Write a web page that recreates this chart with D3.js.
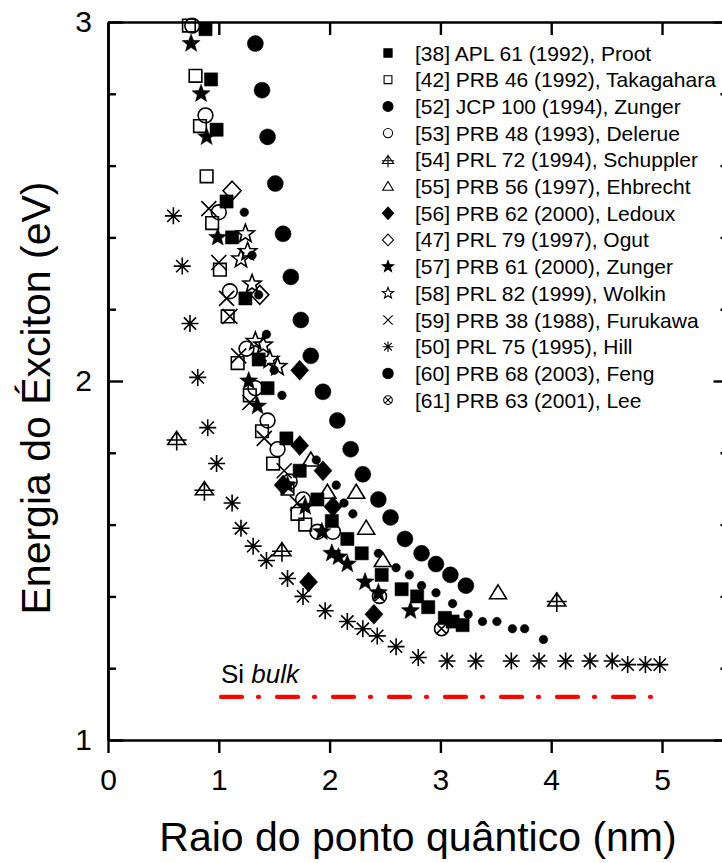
<!DOCTYPE html>
<html>
<head>
<meta charset="utf-8">
<script src="https://cdn.jsdelivr.net/npm/d3@7"></script>
<style>
  body { margin: 0; background: #fff; }
  svg { font-family: "Liberation Sans", Arial, Helvetica, sans-serif; }
</style>
</head>
<body>
<div id="chart"></div>
<script>
// data (radius in nm, exciton energy in eV)
var prootX = [0.88,0.93,0.98,1.07,1.12,1.24,1.36,1.44,1.61,1.73,1.89,2.02,2.16,2.29,2.47,2.65,2.79,2.89,3.04,3.11,3.20];
var prootY = [2.98,2.84,2.70,2.50,2.40,2.23,2.06,1.98,1.84,1.75,1.67,1.61,1.56,1.52,1.46,1.42,1.40,1.37,1.34,1.33,1.32];
var takaX = [0.73,0.79,0.83,0.89,0.94,1.01,1.08,1.17,1.28,1.39,1.49,1.62,1.71,1.78];
var takaY = [2.99,2.85,2.71,2.57,2.44,2.31,2.18,2.05,1.96,1.86,1.77,1.70,1.63,1.60];
var zunger94X = [1.33,1.39,1.44,1.51,1.58,1.65,1.74,1.83,1.94,2.07,2.19,2.30,2.44,2.55,2.68,2.83,2.96,3.09,3.23];
var zunger94Y = [2.94,2.81,2.68,2.55,2.41,2.29,2.17,2.07,1.97,1.89,1.81,1.74,1.67,1.62,1.56,1.52,1.49,1.46,1.43];
var delerueX = [0.76,0.88,1.00,1.10,1.25,1.33,1.44,1.53,1.64,1.76,1.89,2.03];
var delerueY = [2.99,2.74,2.47,2.25,2.09,1.98,1.89,1.81,1.72,1.67,1.58,1.58];
var schupX = [0.62,0.87,1.57,4.05];
var schupY = [1.84,1.70,1.53,1.39];
var ehbX = [1.83,1.98,2.24,2.33,2.48,3.52];
var ehbY = [1.78,1.69,1.69,1.59,1.50,1.41];
var ledouxX = [1.73,1.73,1.58,1.94,2.03,1.81,2.40];
var ledouxY = [2.03,1.82,1.71,1.75,1.65,1.44,1.35];
var ogutX = [1.12,1.37];
var ogutY = [2.53,2.24];
var zunger00X = [0.75,0.84,0.89,0.99,1.27,1.35,1.62,1.78,1.93,2.02,2.08,2.16,2.32,2.44,2.73];
var zunger00Y = [2.94,2.80,2.68,2.40,2.00,1.93,1.71,1.65,1.58,1.52,1.51,1.49,1.44,1.41,1.36];
var wolkinX = [1.24,1.20,1.26,1.30,1.33,1.40,1.46,1.53];
var wolkinY = [2.41,2.34,2.36,2.27,2.11,2.10,2.06,2.04];
var furuX = [0.91,1.00,1.07,1.10,1.18,1.28,1.41,1.59,1.71];
var furuY = [2.48,2.33,2.23,2.18,2.07,1.94,1.84,1.75,1.66];
var hillX = [0.59,0.67,0.74,0.81,0.90,0.98,1.12,1.20,1.31,1.43,1.62,1.76,1.96,2.16,2.30,2.43,2.60,2.80,3.06,3.32,3.64,3.89,4.13,4.35,4.55,4.69,4.85,4.98];
var hillY = [2.46,2.32,2.16,2.01,1.87,1.77,1.66,1.59,1.54,1.50,1.45,1.40,1.36,1.33,1.31,1.29,1.26,1.23,1.22,1.22,1.22,1.22,1.22,1.22,1.22,1.21,1.21,1.21];
var fengX = [1.23,1.30,1.36,1.43,1.50,1.57,1.88,2.06,2.13,2.21,2.44,2.60,2.72,2.83,2.96,3.11,3.25,3.38,3.51,3.65,3.76,3.93];
var fengY = [2.47,2.35,2.24,2.13,2.03,1.96,1.78,1.71,1.66,1.63,1.52,1.48,1.46,1.43,1.41,1.38,1.35,1.33,1.33,1.31,1.31,1.28];
var leeX = [2.45,3.01];
var leeY = [1.40,1.31];

var legendLabels = [
  "[38] APL 61 (1992), Proot",
  "[42] PRB 46 (1992), Takagahara",
  "[52] JCP 100 (1994), Zunger",
  "[53] PRB 48 (1993), Delerue",
  "[54] PRL 72 (1994), Schuppler",
  "[55] PRB 56 (1997), Ehbrecht",
  "[56] PRB 62 (2000), Ledoux",
  "[47] PRL 79 (1997), Ogut",
  "[57] PRB 61 (2000), Zunger",
  "[58] PRL 82 (1999), Wolkin",
  "[59] PRB 38 (1988), Furukawa",
  "[50] PRL 75 (1995), Hill",
  "[60] PRB 68 (2003), Feng",
  "[61] PRB 63 (2001), Lee"
];
var markers = ["sqFill","sqOpen","bigDot","circOpen","triCross","triOpen","diaFill","diaOpen","starFill","starOpen","cross","aster","dot","otimes"];
var xsList = [prootX,takaX,zunger94X,delerueX,schupX,ehbX,ledouxX,ogutX,zunger00X,wolkinX,furuX,hillX,fengX,leeX];
var ysList = [prootY,takaY,zunger94Y,delerueY,schupY,ehbY,ledouxY,ogutY,zunger00Y,wolkinY,furuY,hillY,fengY,leeY];

var bulkGap = 1.12;
var bulkRange = [1.02, 4.9];
var xTicks = [0,1,2,3,4,5];
var yTicks = [1,2,3];

var w = 722, h = 863;
var svg = d3.select("#chart").append("svg").attr("width", w).attr("height", h);

// the right frame line sits just past the window edge
var x = d3.scaleLinear().domain([0, 5.6]).range([108, 728.5]);
var y = d3.scaleLinear().domain([1, 3]).range([740, 22]);

// marker shapes, k scales the size (legend uses smaller ones)
function starPath(R) {
  var p = [];
  for (var i = 0; i < 10; i++) {
    var r = i % 2 ? R * 0.42 : R;
    var a = -Math.PI / 2 + i * Math.PI / 5;
    p.push([r * Math.cos(a), r * Math.sin(a)]);
  }
  return "M" + p.join("L") + "Z";
}
function circlePath(r) {
  return "M" + (-r) + ",0A" + r + "," + r + " 0 1,0 " + r + ",0A" + r + "," + r + " 0 1,0 " + (-r) + ",0Z";
}
function shape(type, k) {
  var s;
  switch (type) {
    case "sqFill": s = 6.6 * k; return {d: "M" + -s + "," + -s + "H" + s + "V" + s + "H" + -s + "Z", fill: true};
    case "sqOpen": s = 6.3 * k; return {d: "M" + -s + "," + -s + "H" + s + "V" + s + "H" + -s + "Z", fill: false};
    case "bigDot": return {d: circlePath(8 * k), fill: true};
    case "circOpen": return {d: circlePath(7.4 * k), fill: false};
    case "triCross": return {d: "M0," + (-7 * k) + "L" + (9 * k) + "," + (6 * k) + "H" + (-9 * k) + "Z" +
      "M" + (-10 * k) + "," + (1.5 * k) + "H" + (10 * k) + "M0," + (-8 * k) + "V" + (12 * k), fill: false};
    case "triOpen": return {d: "M0," + (-8 * k) + "L" + (8.5 * k) + "," + (6 * k) + "H" + (-8.5 * k) + "Z", fill: false};
    case "diaFill": return {d: "M0," + (-10 * k) + "L" + (9 * k) + ",0L0," + (10 * k) + "L" + (-9 * k) + ",0Z", fill: true};
    case "diaOpen": return {d: "M0," + (-9.5 * k) + "L" + (9 * k) + ",0L0," + (9.5 * k) + "L" + (-9 * k) + ",0Z", fill: false};
    case "starFill": return {d: starPath(9.5 * k), fill: true};
    case "starOpen": return {d: starPath(9.5 * k), fill: false};
    case "cross": s = 7.5 * k; return {d: "M" + -s + "," + -s + "L" + s + "," + s + "M" + -s + "," + s + "L" + s + "," + -s, fill: false};
    case "aster": s = 8.5 * k; var t = s * 0.72;
      return {d: "M0," + -s + "V" + s + "M" + -s + ",0H" + s + "M" + -t + "," + -t + "L" + t + "," + t + "M" + -t + "," + t + "L" + t + "," + -t, fill: false};
    case "dot": return {d: circlePath(4.3 * k), fill: true};
    case "otimes": s = 7 * k; var c = s * 0.707;
      return {d: circlePath(s) + "M" + -c + "," + -c + "L" + c + "," + c + "M" + -c + "," + c + "L" + c + "," + -c, fill: false};
  }
}

// axes
function styleAxis(g) {
  g.selectAll(".domain").attr("stroke", "#000").attr("stroke-width", 2.6);
  g.selectAll(".tick line").attr("stroke", "#000").attr("stroke-width", 2.4);
  g.selectAll("text").attr("font-size", 30).attr("fill", "#000");
}
var minorY = d3.range(1.2, 3, 0.2).filter(function(v) { return Math.abs(v - 2) > 1e-6; });

svg.append("g").attr("transform", "translate(0,740)")
  .call(d3.axisBottom(x).tickValues(xTicks).tickFormat(d3.format("d")).tickSize(13).tickSizeOuter(0).tickPadding(16))
  .call(styleAxis);
svg.append("g").attr("transform", "translate(0,22)")
  .call(d3.axisTop(x).tickValues(xTicks.slice(1)).tickFormat("").tickSize(-13).tickSizeOuter(0))
  .call(styleAxis);
svg.append("g").attr("transform", "translate(108,0)")
  .call(d3.axisLeft(y).tickValues(yTicks).tickFormat(d3.format("d")).tickSize(-15).tickSizeOuter(0).tickPadding(16))
  .call(styleAxis);
svg.append("g").attr("transform", "translate(108,0)")
  .call(d3.axisLeft(y).tickValues(minorY).tickFormat("").tickSize(-8).tickSizeOuter(0))
  .call(styleAxis);
svg.append("g").attr("transform", "translate(" + x(5.6) + ",0)")
  .call(d3.axisRight(y).tickValues(yTicks).tickFormat("").tickSize(-15).tickSizeOuter(0))
  .call(styleAxis);
svg.append("g").attr("transform", "translate(" + x(5.6) + ",0)")
  .call(d3.axisRight(y).tickValues(minorY).tickFormat("").tickSize(-8).tickSizeOuter(0))
  .call(styleAxis);

// axis titles
svg.append("text")
  .attr("x", 418).attr("y", 851)
  .attr("text-anchor", "middle").attr("font-size", 41)
  .text("Raio do ponto quântico (nm)");
svg.append("text")
  .attr("transform", "translate(50,398) rotate(-90)")
  .attr("text-anchor", "middle").attr("font-size", 41)
  .text("Energia do Éxciton (eV)");

// Si bulk line
svg.append("line")
  .attr("x1", x(bulkRange[0])).attr("x2", x(bulkRange[1]))
  .attr("y1", y(bulkGap)).attr("y2", y(bulkGap))
  .attr("stroke", "#ff0000").attr("stroke-width", 4.2)
  .attr("stroke-linecap", "round")
  .attr("stroke-dasharray", "21,16,1,18");
var bulkText = svg.append("text")
  .attr("x", 221).attr("y", 683)
  .attr("font-size", 26);
bulkText.append("tspan").text("Si ");
bulkText.append("tspan").attr("font-style", "italic").text("bulk");

// data points
markers.forEach(function(m, i) {
  var pts = xsList[i].map(function(v, j) { return {x: v, y: ysList[i][j]}; });
  var sh = shape(m, 1);
  svg.append("g").attr("class", "series-" + i)
    .selectAll("path")
    .data(pts)
    .enter()
    .append("path")
    .attr("transform", function(d) { return "translate(" + x(d.x) + "," + y(d.y) + ")"; })
    .attr("d", sh.d)
    .attr("fill", sh.fill ? "#000" : "none")
    .attr("stroke", "#000")
    .attr("stroke-width", sh.fill ? 0.5 : 1.6)
    .attr("stroke-linejoin", "miter");
});

// legend
var legend = svg.append("g").attr("class", "legend");
var rows = legend.selectAll("g")
  .data(legendLabels)
  .enter()
  .append("g")
  .attr("transform", function(d, i) { return "translate(388," + (53 + i * 26.7) + ")"; });
rows.append("path")
  .attr("d", function(d, i) { return shape(markers[i], markers[i] === "dot" ? 1.2 : 0.62).d; })
  .attr("fill", function(d, i) { return shape(markers[i], 1).fill ? "#000" : "none"; })
  .attr("stroke", "#000")
  .attr("stroke-width", 1.1);
rows.append("text")
  .attr("x", 27).attr("y", 7.5)
  .attr("font-size", 21)
  .text(function(d) { return d; });
</script>
</body>
</html>
